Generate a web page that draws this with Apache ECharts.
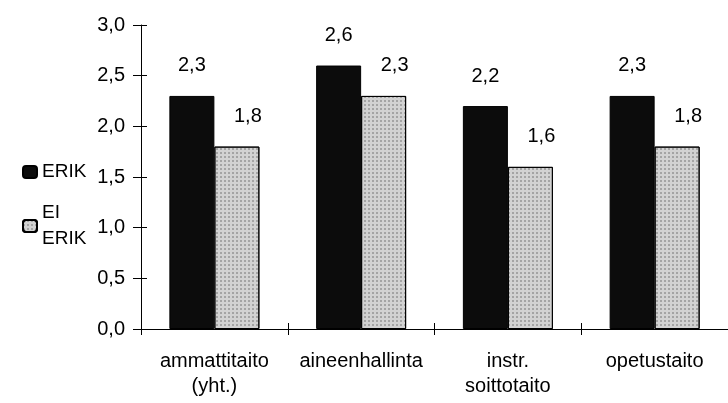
<!DOCTYPE html>
<html>
<head>
<meta charset="utf-8">
<script src="https://cdn.jsdelivr.net/npm/echarts@6/dist/echarts.min.js"></script>
<style>html,body{margin:0;padding:0;background:#fff}#c{width:728px;height:403px}</style>
</head>
<body>
<div id="c"></div>
<script>
var categories = ['ammattitaito\n(yht.)', 'aineenhallinta', 'instr.\nsoittotaito', 'opetustaito'];
var seriesNames = ['ERIK', 'EI ERIK'];
var erik = [2.3, 2.6, 2.2, 2.3];
var eiErik = [1.8, 2.3, 1.6, 1.8];
var yMin = 0, yMax = 3, yStep = 0.5;

var FONT = '"Liberation Sans", Arial, sans-serif';
function fmt(v) { return Number(v).toFixed(1).replace('.', ','); }

var chart = echarts.init(document.getElementById('c'), null, {renderer: 'canvas'});
var axisBase = {type: 'value', min: yMin, max: yMax, interval: yStep};
chart.setOption({
  animation: false,
  backgroundColor: '#fff',
  textStyle: {fontFamily: FONT, color: '#000'},
  grid: {left: 141, top: 25, bottom: 74, right: -9, containLabel: false},
  legend: [
    {
      data: [seriesNames[0]], left: 17, top: 157, orient: 'vertical',
      itemWidth: 14, itemHeight: 12, itemGap: 5,
      textStyle: {fontFamily: FONT, fontSize: 19, color: '#000', lineHeight: 20},
      selectedMode: false
    },
    {
      data: [seriesNames[1]], left: 17, top: 182, orient: 'vertical',
      itemWidth: 14, itemHeight: 12,
      formatter: function (n) { return n.replace(' ', '\n'); },
      textStyle: {fontFamily: FONT, fontSize: 19, color: '#000', lineHeight: 26, padding: [26, 0, 0, 0]},
      selectedMode: false
    }
  ],
  xAxis: [
    {
      type: 'category', data: categories,
      axisLine: {lineStyle: {color: '#000', width: 1}},
      axisTick: {show: true, length: 6, lineStyle: {color: '#000'}, alignWithLabel: false},
      axisLabel: {fontFamily: FONT, fontSize: 20, color: '#000', margin: 20, lineHeight: 25, interval: 0}
    },
    {
      type: 'category', data: categories, position: 'bottom',
      axisLine: {show: false},
      axisTick: {show: true, inside: true, length: 6, lineStyle: {color: '#000'}},
      axisLabel: {show: false}
    }
  ],
  yAxis: [
    Object.assign({}, axisBase, {
      axisLine: {show: true, lineStyle: {color: '#000', width: 1}},
      axisTick: {show: true, length: 8, lineStyle: {color: '#000'}},
      axisLabel: {fontFamily: FONT, fontSize: 20, color: '#000', margin: 16, formatter: fmt},
      splitLine: {show: false}
    }),
    Object.assign({}, axisBase, {
      position: 'left',
      axisLine: {show: false},
      axisTick: {show: true, inside: true, length: 6, lineStyle: {color: '#000'}},
      axisLabel: {show: false},
      splitLine: {show: false}
    })
  ],
  series: [
    {
      name: seriesNames[0], type: 'bar', data: erik, barWidth: 45, barGap: '0%',
      itemStyle: {color: '#0c0c0c', borderColor: '#000', borderWidth: 1},
      label: {show: true, position: 'top', distance: 20, formatter: function (p) { return fmt(p.value); },
        fontFamily: FONT, fontSize: 20, color: '#000'}
    },
    {
      name: seriesNames[1], type: 'bar', data: eiErik, barWidth: 45,
      itemStyle: {color: '#d2d2d2', borderColor: '#000', borderWidth: 1,
        decal: {symbol: 'rect', symbolSize: 1, dashArrayX: [2, 2], dashArrayY: [2, 2], color: 'rgba(0,0,0,0.22)', rotation: 0}},
      label: {show: true, position: 'top', distance: 20, offset: [11, 0], formatter: function (p) { return fmt(p.value); },
        fontFamily: FONT, fontSize: 20, color: '#000'}
    }
  ]
});
</script>
</body>
</html>
